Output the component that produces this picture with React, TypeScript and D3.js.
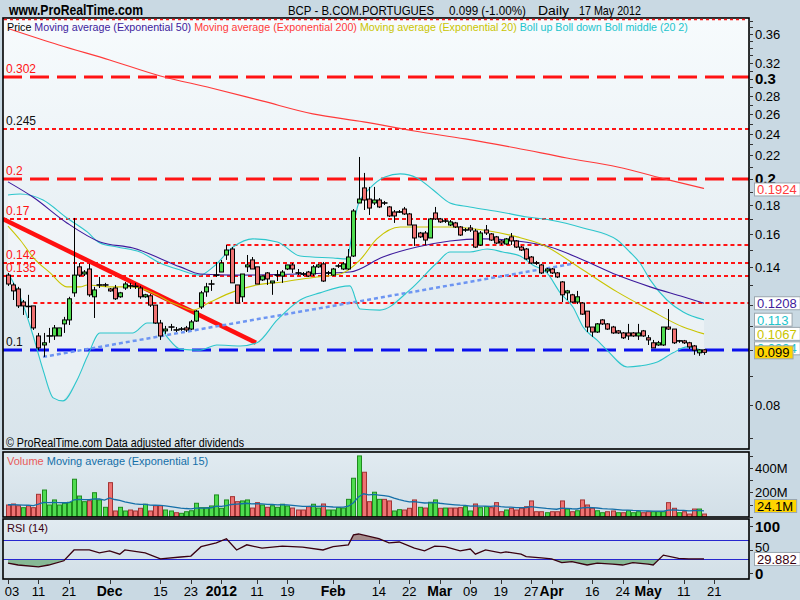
import React, { useEffect, useRef } from "react";
import * as d3 from "d3";

// daily BCP candles 03 Nov 2011 .. 17 May 2012 : open, high, low, close
const ohlc: number[][] = [
  [0.1354, 0.1366, 0.1296, 0.1306], [0.1301, 0.1312, 0.1224, 0.127], [0.128, 0.1291, 0.1185, 0.1195],
  [0.1214, 0.1224, 0.1152, 0.1195], [0.1195, 0.125, 0.1138, 0.119], [0.1195, 0.1195, 0.1084, 0.1093],
  [0.1058, 0.1071, 0.0999, 0.1008], [0.102, 0.1071, 0.0972, 0.1029], [0.1058, 0.1093, 0.1029, 0.1058],
  [0.1058, 0.1106, 0.1041, 0.1093], [0.1058, 0.1093, 0.1058, 0.1093], [0.1111, 0.1143, 0.1071, 0.1129],
  [0.1129, 0.124, 0.1106, 0.123], [0.126, 0.1707, 0.124, 0.1354], [0.14, 0.1422, 0.1344, 0.1354],
  [0.136, 0.1382, 0.1349, 0.1371], [0.1388, 0.1417, 0.124, 0.125], [0.124, 0.1291, 0.1138, 0.1275],
  [0.1301, 0.1344, 0.1285, 0.1301], [0.1301, 0.1312, 0.1291, 0.1301], [0.128, 0.1285, 0.1265, 0.127],
  [0.1285, 0.1301, 0.1224, 0.123], [0.124, 0.1265, 0.1235, 0.126], [0.1285, 0.1317, 0.1275, 0.1306],
  [0.1296, 0.1312, 0.128, 0.1296], [0.1296, 0.1312, 0.128, 0.1291], [0.1285, 0.1296, 0.123, 0.124],
  [0.124, 0.1255, 0.1235, 0.125], [0.1245, 0.1255, 0.119, 0.1199], [0.1199, 0.1199, 0.1111, 0.1115],
  [0.1115, 0.1129, 0.1041, 0.1058], [0.108, 0.1102, 0.1067, 0.1088], [0.1097, 0.1111, 0.108, 0.1097],
  [0.1084, 0.1097, 0.1075, 0.1084], [0.1088, 0.1097, 0.108, 0.1088], [0.1093, 0.1102, 0.1075, 0.1084],
  [0.1088, 0.1129, 0.1084, 0.112], [0.1124, 0.1175, 0.112, 0.117], [0.119, 0.127, 0.118, 0.126],
  [0.1265, 0.1312, 0.124, 0.1291], [0.1306, 0.1328, 0.127, 0.1306], [0.1354, 0.1428, 0.1344, 0.1354],
  [0.1371, 0.144, 0.1371, 0.1422], [0.1469, 0.153, 0.144, 0.1499], [0.1505, 0.1517, 0.1312, 0.1312],
  [0.1301, 0.1301, 0.1209, 0.1209], [0.124, 0.136, 0.1214, 0.136], [0.14, 0.1469, 0.1371, 0.1411],
  [0.144, 0.1457, 0.1388, 0.1388], [0.14, 0.14, 0.1306, 0.1306], [0.1328, 0.1349, 0.1322, 0.1349],
  [0.1366, 0.1371, 0.1301, 0.1333], [0.1312, 0.1322, 0.125, 0.1322], [0.1354, 0.1382, 0.1322, 0.1354],
  [0.1349, 0.1382, 0.1312, 0.1371], [0.1388, 0.1411, 0.1382, 0.1411], [0.1411, 0.1422, 0.1366, 0.1388],
  [0.1366, 0.1388, 0.1354, 0.1366], [0.136, 0.1371, 0.1349, 0.136], [0.1371, 0.1377, 0.1344, 0.1349],
  [0.136, 0.1411, 0.1349, 0.14], [0.14, 0.1417, 0.1394, 0.1411], [0.1417, 0.1428, 0.1317, 0.1322],
  [0.1366, 0.1377, 0.1354, 0.1366], [0.1354, 0.1394, 0.1349, 0.1388], [0.1405, 0.1417, 0.1394, 0.1405],
  [0.1388, 0.1428, 0.1382, 0.1417], [0.1388, 0.1505, 0.1382, 0.1457], [0.1463, 0.177, 0.1457, 0.1756],
  [0.1814, 0.2186, 0.1814, 0.1843], [0.1928, 0.2049, 0.1763, 0.1836], [0.1843, 0.1936, 0.1728, 0.1777],
  [0.1814, 0.1936, 0.1799, 0.1836], [0.1836, 0.185, 0.1777, 0.1785], [0.1814, 0.1829, 0.1799, 0.1814],
  [0.1785, 0.1792, 0.1714, 0.1721], [0.1749, 0.1763, 0.1673, 0.1721], [0.1749, 0.1763, 0.1742, 0.1749],
  [0.177, 0.1785, 0.1728, 0.1735], [0.1735, 0.1742, 0.1659, 0.1659], [0.1659, 0.1659, 0.1524, 0.1574],
  [0.1606, 0.1613, 0.1574, 0.1581], [0.1606, 0.1619, 0.153, 0.1561], [0.1574, 0.1707, 0.1574, 0.17],
  [0.1742, 0.1785, 0.1693, 0.17], [0.17, 0.1707, 0.1673, 0.168], [0.1686, 0.17, 0.1673, 0.1686],
  [0.1659, 0.1693, 0.1652, 0.168], [0.1673, 0.168, 0.1639, 0.1646], [0.1646, 0.1652, 0.1587, 0.1593],
  [0.1626, 0.1639, 0.1613, 0.1626], [0.1639, 0.1659, 0.1613, 0.1626], [0.1619, 0.1633, 0.1511, 0.1517],
  [0.153, 0.1619, 0.1524, 0.1606], [0.1626, 0.1659, 0.1593, 0.1606], [0.16, 0.1606, 0.1555, 0.1561],
  [0.1581, 0.1587, 0.1536, 0.1542], [0.1555, 0.1561, 0.153, 0.1542], [0.1536, 0.1574, 0.153, 0.1568],
  [0.1581, 0.1606, 0.153, 0.1555], [0.1555, 0.1561, 0.1511, 0.1517], [0.1517, 0.1524, 0.1493, 0.1499],
  [0.1505, 0.1511, 0.144, 0.1446], [0.1457, 0.1463, 0.1417, 0.1422], [0.1422, 0.1434, 0.1411, 0.1422],
  [0.1411, 0.1417, 0.136, 0.1366], [0.1377, 0.1394, 0.1366, 0.1388], [0.1388, 0.1394, 0.136, 0.1366],
  [0.1366, 0.1371, 0.1338, 0.1344], [0.1317, 0.1322, 0.1214, 0.125], [0.126, 0.1275, 0.1224, 0.127],
  [0.125, 0.1255, 0.1209, 0.1214], [0.1214, 0.127, 0.1204, 0.124], [0.1209, 0.1214, 0.1152, 0.1156],
  [0.117, 0.117, 0.1075, 0.1097], [0.1097, 0.1097, 0.1054, 0.1075], [0.1075, 0.1115, 0.1071, 0.1111],
  [0.1129, 0.1133, 0.1106, 0.1111], [0.1111, 0.1115, 0.1084, 0.1088], [0.1097, 0.1102, 0.1067, 0.1071],
  [0.108, 0.1084, 0.1067, 0.1071], [0.1071, 0.1075, 0.1045, 0.105], [0.1071, 0.1111, 0.1041, 0.1058],
  [0.1071, 0.1075, 0.1054, 0.1058], [0.1058, 0.1111, 0.1041, 0.1071], [0.108, 0.1084, 0.1054, 0.1058],
  [0.105, 0.1062, 0.102, 0.1041], [0.1029, 0.1041, 0.1008, 0.1008], [0.102, 0.1037, 0.1016, 0.1029],
  [0.102, 0.1097, 0.1016, 0.1097], [0.1097, 0.118, 0.1084, 0.1088], [0.1088, 0.1088, 0.1024, 0.1029],
  [0.1037, 0.1041, 0.1029, 0.1037], [0.1037, 0.1041, 0.1024, 0.1029], [0.1029, 0.1033, 0.1003, 0.1012],
  [0.1016, 0.102, 0.098, 0.0999], [0.0988, 0.1003, 0.0976, 0.1], [0.1, 0.1003, 0.098, 0.099],
];

// volume in millions, and whether the bar is drawn as an up day
const volumes = [
  98, 106, 92, 76, 92, 76, 185, 220, 98, 139, 98, 112, 120, 308, 171, 125, 133, 198, 139, 79,
  280, 49, 79, 49, 57, 49, 71, 104, 49, 92, 92, 57, 49, 35, 30, 43, 51, 112, 76, 76,
  90, 180, 71, 139, 166, 125, 131, 139, 73, 117, 98, 79, 92, 79, 104, 90, 73, 57, 57, 84,
  104, 73, 106, 57, 57, 76, 73, 144, 316, 498, 365, 125, 202, 144, 144, 131, 49, 60,
  57, 71, 139, 79, 73, 120, 139, 71, 73, 73, 73, 76, 84, 49, 106, 76, 84, 76, 117, 43,
  57, 71, 57, 71, 84, 131, 43, 43, 35, 43, 43, 131, 65, 43, 51, 139, 98, 71, 51, 35,
  43, 49, 35, 35, 51, 35, 43, 35, 43, 43, 43, 43, 117, 71, 35, 43, 24, 65, 65, 24.1,
];
const volUp =
  "rrrgrrrggg" + "ggggggrggg" + "rrggrrrgrr" + "rggrgggggg" + "ggggrrggrr" + "grggggrrrr" +
  "ggrggggggg" + "rrggrrg" + "g" +
  "rrrgrggrgr" + "rrggrggrrr" + "grrrrrrrgr" + "rrgrgrrrgg" + "rrgrgggrrg" + "ggrrgrrrgr";

// indicator readings [day index, value]
const ema200 = [
  [0, 0.3681], [10, 0.3443], [20, 0.324], [30, 0.3036], [40, 0.2892], [50, 0.2744], [60, 0.2603],
  [70, 0.252], [80, 0.2429], [90, 0.2352], [100, 0.2267], [110, 0.2177], [120, 0.2099], [130, 0.1992],
  [137, 0.1924],
];
const ema50 = [
  [0, 0.1976], [4.9, 0.1858], [11.6, 0.1673], [18.1, 0.1549], [24.6, 0.1511], [33.9, 0.14],
  [37.8, 0.136], [44.3, 0.1354], [57.5, 0.136], [67.3, 0.1371], [73.8, 0.1457], [80.5, 0.1517],
  [87, 0.1555], [93.5, 0.1568], [100.2, 0.1555], [106.7, 0.1517], [113.2, 0.144], [119.9, 0.1354],
  [126.4, 0.1291], [132.9, 0.124], [137, 0.1208],
];
const ema20 = [
  [0, 0.1652], [2.4, 0.1561], [4.9, 0.1457], [8.3, 0.1366], [11.6, 0.1291], [14.2, 0.1291],
  [15.6, 0.1301], [20.1, 0.1291], [24.6, 0.1291], [29.3, 0.125], [31.9, 0.1214], [33.9, 0.1195],
  [36.4, 0.1175], [39.8, 0.1214], [44.3, 0.1265], [49, 0.1301], [54.1, 0.1317], [60.8, 0.1344],
  [65.4, 0.136], [69.3, 0.144], [72.6, 0.1568], [77.2, 0.1646], [87, 0.1646], [93.5, 0.1626],
  [100.2, 0.1581], [105.3, 0.153], [113.2, 0.1382], [119.9, 0.1265], [126.4, 0.1175],
  [132.9, 0.1097], [137, 0.1067],
];
const bollUp = [
  [0, 0.1874], [2.4, 0.1881], [6.9, 0.1836], [11.6, 0.1707], [15.6, 0.1613], [18.1, 0.1542],
  [21.5, 0.1517], [26, 0.1487], [29.9, 0.1422], [33.9, 0.1382], [37.8, 0.1354], [40.4, 0.14],
  [44.3, 0.1517], [48.2, 0.1568], [53, 0.1549], [57.5, 0.1463], [64, 0.1451], [66.7, 0.1446],
  [67.7, 0.1593], [68.9, 0.1799], [71.3, 0.1928], [74.2, 0.2016], [77.2, 0.2041], [80.5, 0.2008],
  [83.7, 0.1912], [87, 0.1814], [90.9, 0.1785], [96.9, 0.1749], [102.2, 0.1714], [106.7, 0.1693],
  [113.2, 0.1639], [119.9, 0.1561], [122.4, 0.1487], [124.4, 0.1422], [126.4, 0.1328],
  [129.7, 0.1224], [132.9, 0.1166], [137, 0.113],
];
const bollDown = [
  [0, 0.1366], [2.4, 0.124], [4.9, 0.1062], [6.9, 0.0922], [8.9, 0.0823], [10.8, 0.0813],
  [13.6, 0.0885], [15.6, 0.0972], [18.1, 0.1071], [24.6, 0.1071], [27.4, 0.1115], [29.3, 0.1115],
  [31.3, 0.1054], [33.9, 0.1003], [37.8, 0.0999], [41.1, 0.102], [45.7, 0.1016], [49, 0.1029],
  [53, 0.1129], [57.5, 0.1224], [61.4, 0.126], [67.3, 0.1296], [69.3, 0.118], [73.2, 0.1175],
  [79.1, 0.1275], [84.4, 0.1422], [87, 0.1487], [90.9, 0.1487], [94.3, 0.1505], [97.4, 0.1487],
  [100.8, 0.1463], [103.3, 0.1411], [106.1, 0.1366], [108.7, 0.126], [111.2, 0.119],
  [113.2, 0.1097], [115.9, 0.1041], [117.9, 0.0999], [121.9, 0.0933], [124.4, 0.0937],
  [127.8, 0.0952], [130.9, 0.0988], [133.7, 0.1012], [137, 0.0994],
];
const rsiIdx = [
  0, 2, 6, 8, 11, 13, 16, 18, 20, 22, 23, 27, 30, 34, 36, 38, 41, 43, 45, 47, 50, 54, 58, 62, 64, 67, 68, 69,
  73, 75, 77, 80, 82, 84, 86, 89, 91, 92, 94, 97, 98, 101, 102, 105, 107, 109, 111, 114, 116, 119, 121,
  123, 126, 127, 129, 132, 134, 137,
];
const rsiVal = [
  21, 17, 13, 17, 26, 49, 49, 43, 47, 40, 49, 43, 30, 34, 36, 56, 64, 73, 49, 60, 53, 57, 55, 49, 56, 60,
  81, 83, 73, 64, 66, 53, 47, 57, 56, 47, 51, 40, 49, 43, 45, 40, 35, 32, 30, 22, 24, 17, 21, 19, 17, 22,
  19, 17, 38, 31, 30, 29.882,
];

// horizontal levels and trend lines drawn on the chart
const dashedLevels = [0.302, 0.2];
const dottedLevels = [0.245, 0.17, 0.153, 0.142, 0.135, 0.121];
const levelStart: Record<string, number> = { "0.153": 43, "0.121": 5 };
const supportLevel = 0.1;
const levelLabels = ["0.302", "0.245", "0.2", "0.17", "0.142", "0.135", "0.1"];
const downTrend = [[-1, 0.17], [48.8, 0.1029]];
const upTrend = [[6.9, 0.0972], [111, 0.1417]];

const dateTicks = ["03", "11", "21", "Dec", "15", "23", "2012", "11", "19", "Feb", "14", "22", "Mar", "09", "19", "27", "Apr", "16", "24", "May", "11", "21"];
const dateTickIdx = [0, 6, 12, 20, 30, 36, 42, 49, 55, 64, 73, 79, 85, 91, 97, 103, 107, 115, 121, 126, 133, 139];
// 0.12 and 0.1 sit under the value boxes in the original, so they are not labelled
const priceLabels = [0.36, 0.32, 0.3, 0.28, 0.26, 0.24, 0.22, 0.2, 0.18, 0.16, 0.14, 0.08];

const NARROW = "'Liberation Sans Narrow','Arial Narrow','Liberation Sans',Arial,sans-serif";
const SANS = "'Liberation Sans',Arial,sans-serif";
const GREEN = "#4fdc4f";
const RED = "#ef7272";

export default function App() {
  const ref = useRef<SVGSVGElement>(null);

  useEffect(() => {
    document.body.style.margin = "0";
    const svg = d3.select(ref.current);
    svg.selectAll("*").remove();

    const L = 3, R = 749;
    const mainTop = 18, mainBot = 449;
    const volTop = 452, volBot = 517;
    const rsiTop = 519, rsiBot = 579;

    const x = d3.scaleLinear().domain([0, 137]).range([8, 704]);
    const y = d3.scaleLog().domain([0.0669, 0.384]).range([mainBot, mainTop]);
    const yv = d3.scaleLinear().domain([0, 530]).range([volBot, volTop]);
    const yr = d3.scaleLinear().domain([0, 100]).range([573, 526]);

    svg.append("rect").attr("width", 800).attr("height", 600).attr("fill", "#c9d9e3");

    const defs = svg.append("defs");
    const g1 = defs.append("linearGradient").attr("id", "mainBg").attr("x1", 0).attr("x2", 0).attr("y1", 0).attr("y2", 1);
    g1.append("stop").attr("offset", "0%").attr("stop-color", "#f7fbfd");
    g1.append("stop").attr("offset", "100%").attr("stop-color", "#d8e4eb");
    const g2 = defs.append("linearGradient").attr("id", "subBg").attr("x1", 0).attr("x2", 0).attr("y1", 0).attr("y2", 1);
    g2.append("stop").attr("offset", "0%").attr("stop-color", "#e1ebf1");
    g2.append("stop").attr("offset", "100%").attr("stop-color", "#d2dfe7");
    const clip = (id: string, t: number, b: number) =>
      defs.append("clipPath").attr("id", id).append("rect").attr("x", L).attr("y", t).attr("width", R - L).attr("height", b - t);
    clip("cMain", mainTop, mainBot);
    clip("cVol", volTop, volBot);
    clip("cRsi", rsiTop, rsiBot);
    defs.append("clipPath").attr("id", "cBelow30").append("rect").attr("x", L).attr("y", yr(30)).attr("width", R - L).attr("height", rsiBot - yr(30));
    defs.append("clipPath").attr("id", "cAbove70").append("rect").attr("x", L).attr("y", rsiTop).attr("width", R - L).attr("height", yr(70) - rsiTop);

    // header
    svg.append("text").attr("x", 9).attr("y", 15).attr("font-family", NARROW).attr("font-size", 14).attr("font-weight", "bold")
      .attr("textLength", 134).attr("lengthAdjust", "spacingAndGlyphs").text("www.ProRealTime.com");
    const titleParts: [string, number, number][] = [
      ["BCP - B.COM.PORTUGUES", 288, 146], ["0.099 (-1.00%)", 449, 77], ["Daily", 538, 31], ["17 May 2012", 579, 62],
    ];
    titleParts.forEach(([t, tx, w]) =>
      svg.append("text").attr("x", tx).attr("y", 15).attr("font-family", NARROW).attr("font-size", 13)
        .attr("textLength", w).attr("lengthAdjust", "spacingAndGlyphs").text(t));

    // panels
    const panel = (t: number, b: number, fill: string) =>
      svg.append("rect").attr("x", L).attr("y", t).attr("width", R - L).attr("height", b - t).attr("fill", fill);
    panel(mainTop, mainBot, "url(#mainBg)");
    panel(volTop, volBot, "url(#subBg)");
    panel(rsiTop, rsiBot, "url(#subBg)");

    const pts = (d: number[][]) => d.map((p) => [x(p[0]), y(p[1])] as [number, number]);
    const curve = d3.line().curve(d3.curveMonotoneX);
    const straight = d3.line();

    const gm = svg.append("g").attr("clip-path", "url(#cMain)");

    // Bollinger envelope
    gm.append("path")
      .attr("d", straight([...pts(bollUp), ...pts(bollDown).reverse()]) + "Z")
      .attr("fill", "#ffffff").attr("opacity", 0.35);

    // horizontal levels
    const hline = (v: number, color: string, dash: string, w: number) => {
      const start = levelStart[String(v)];
      gm.append("line").attr("x1", start !== undefined ? x(start) : L).attr("x2", R)
        .attr("y1", Math.round(y(v))).attr("y2", Math.round(y(v)))
        .attr("stroke", color).attr("stroke-width", w).attr("stroke-dasharray", dash);
    };
    dottedLevels.forEach((v) => hline(v, "#ff1414", "4 3", 2));
    dashedLevels.forEach((v) => hline(v, "#ff1414", "19 8", 3));
    hline(supportLevel, "#0a10ee", "19 8", 3);
    levelLabels.forEach((s) => {
      gm.append("text").attr("x", 6).attr("y", Math.round(y(+s)) - 4).attr("font-family", SANS).attr("font-size", 12)
        .attr("fill", s === "0.245" || s === "0.1" ? "#111" : "#ff1414").text(s);
    });

    // trend lines
    gm.append("path").attr("d", straight(pts(downTrend))).attr("stroke", "#ff1010").attr("stroke-width", 4.5).attr("fill", "none");
    gm.append("path").attr("d", straight(pts(upTrend))).attr("stroke", "#6d95f2").attr("stroke-width", 2.5)
      .attr("stroke-dasharray", "4 3").attr("fill", "none");

    // indicator lines
    const series: [number[][], string][] = [
      [bollUp, "#2cc6cc"], [bollDown, "#2cc6cc"], [ema200, "#ff3a3a"], [ema50, "#3d1a9c"], [ema20, "#c9c400"],
    ];
    series.forEach(([d, c]) =>
      gm.append("path").attr("d", curve(pts(d))).attr("stroke", c).attr("stroke-width", 1.1).attr("fill", "none"));

    // candles
    const cg = gm.append("g");
    ohlc.forEach(([o, h, l, c], i) => {
      const cx = Math.round(x(i)) + 0.5;
      cg.append("line").attr("x1", cx).attr("x2", cx).attr("y1", y(h)).attr("y2", y(l)).attr("stroke", "#000").attr("stroke-width", 1);
      const top = y(Math.max(o, c)), bot = y(Math.min(o, c));
      if (bot - top < 1.5) {
        cg.append("line").attr("x1", cx - 3).attr("x2", cx + 3).attr("y1", (top + bot) / 2).attr("y2", (top + bot) / 2)
          .attr("stroke", "#000").attr("stroke-width", 1.6);
      } else {
        cg.append("rect").attr("x", cx - 2).attr("y", top).attr("width", 4).attr("height", bot - top)
          .attr("fill", c > o ? GREEN : RED).attr("stroke", "#000").attr("stroke-width", 1);
      }
    });

    svg.append("text").attr("x", 6).attr("y", 447).attr("font-family", NARROW).attr("font-size", 13)
      .attr("textLength", 238).attr("lengthAdjust", "spacingAndGlyphs").text("© ProRealTime.com  Data adjusted after dividends");

    // legend of the price panel, one flowing line
    const legend: [string, string][] = [
      ["Price", "#000"], ["Moving average (Exponential 50)", "#3d1a9c"],
      ["Moving average (Exponential 200)", "#ff3a3a"], ["Moving average (Exponential 20)", "#c9c400"],
      ["Boll up Boll down Boll middle (20 2)", "#22c4cc"],
    ];
    const lg = svg.append("text").attr("x", 7).attr("y", 31).attr("font-family", SANS).attr("font-size", 10.7);
    legend.forEach(([t, c], i) => lg.append("tspan").attr("fill", c).text((i ? " " : "") + t));

    // volume
    const gv = svg.append("g").attr("clip-path", "url(#cVol)");
    volumes.forEach((v, i) => {
      const up = volUp[i] === "g";
      gv.append("rect").attr("x", Math.round(x(i)) - 1.5).attr("y", yv(v)).attr("width", 4).attr("height", volBot - yv(v))
        .attr("fill", up ? GREEN : RED).attr("stroke", up ? "#1f8c1f" : "#a43434").attr("stroke-width", 1);
    });
    const volEma: number[] = [];
    volumes.reduce((prev, v) => {
      const e = prev + ((v - prev) * 2) / 16;
      volEma.push(e);
      return e;
    }, 100);
    gv.append("path").attr("d", straight(volEma.map((v, i) => [x(i), yv(v)] as [number, number])))
      .attr("stroke", "#146fa8").attr("stroke-width", 1.3).attr("fill", "none");
    const vl = svg.append("text").attr("x", 7).attr("y", 465).attr("font-family", SANS).attr("font-size", 11);
    vl.append("tspan").attr("fill", "#e85a5a").text("Volume");
    vl.append("tspan").attr("fill", "#146fa8").text(" Moving average (Exponential 15)");

    // RSI
    const gr = svg.append("g").attr("clip-path", "url(#cRsi)");
    const rsiPts = rsiIdx.map((d, i) => [x(d), yr(rsiVal[i])] as [number, number]);
    gr.append("path").attr("clip-path", "url(#cBelow30)")
      .attr("d", d3.area().x((p) => p[0]).y0(yr(30)).y1((p) => p[1])(rsiPts))
      .attr("fill", "#86b895");
    gr.append("path").attr("clip-path", "url(#cAbove70)")
      .attr("d", d3.area().x((p) => p[0]).y0(yr(70)).y1((p) => p[1])(rsiPts))
      .attr("fill", "#a58c8c");
    [70, 30].forEach((v) =>
      gr.append("line").attr("x1", L).attr("x2", R).attr("y1", Math.round(yr(v)) + 0.5).attr("y2", Math.round(yr(v)) + 0.5)
        .attr("stroke", "#2727cf").attr("stroke-width", 1.2));
    gr.append("path").attr("d", straight(rsiPts)).attr("stroke", "#3a0010").attr("stroke-width", 1.3).attr("fill", "none");
    svg.append("text").attr("x", 7).attr("y", 532).attr("font-family", SANS).attr("font-size", 11).attr("fill", "#3a0010")
      .text("RSI (14)");

    // panel borders
    [[mainTop, mainBot], [volTop, volBot], [rsiTop, rsiBot]].forEach(([t, b]) =>
      svg.append("rect").attr("x", L).attr("y", t).attr("width", R - L).attr("height", b - t)
        .attr("fill", "none").attr("stroke", "#000").attr("stroke-width", 1.6));
    svg.append("line").attr("x1", L + 1).attr("x2", R - 1).attr("y1", mainTop + 1.5).attr("y2", mainTop + 1.5)
      .attr("stroke", "#ff1414").attr("stroke-width", 1.5).attr("stroke-dasharray", "3 3");

    // right price axis
    const ax = svg.append("g").attr("font-family", NARROW).attr("font-size", 13);
    d3.range(7, 39).forEach((k) => {
      const yy = Math.round(y(k / 100)) + 0.5;
      if (yy < mainTop || yy > mainBot) return;
      ax.append("line").attr("x1", R).attr("x2", R + 4).attr("y1", yy).attr("y2", yy).attr("stroke", "#333");
    });
    priceLabels.forEach((v) => {
      const bold = v === 0.3 || v === 0.2;
      ax.append("text").attr("x", R + 6).attr("y", y(v) + 5).attr("font-weight", bold ? "bold" : "normal")
        .attr("font-size", bold ? 15 : 13).text(String(v));
    });
    const box = (text: string, color: string, bg: string, yy: number) => {
      const t = ax.append("text").attr("x", 757).attr("y", yy + 5).attr("fill", color).text(text);
      const w = (t.node() as SVGTextElement).getComputedTextLength();
      ax.insert("rect", () => t.node()).attr("x", 754.5).attr("y", yy - 6.5).attr("width", w + 6).attr("height", 13)
        .attr("fill", bg).attr("stroke", "#9aa6ae");
    };
    const last = (d: number[][]) => d[d.length - 1][1];
    const close = ohlc[ohlc.length - 1][3];
    box(String(last(ema200)), "#ff3a3a", "#ffffff", y(last(ema200)) + 1);
    box(String(last(ema50)), "#3d1a9c", "#ffffff", y(last(ema50)));
    box(String(last(bollUp)), "#22c4cc", "#ffffff", y(last(bollUp)));
    box(String(last(ema20)), "#c9c400", "#ffffff", y(last(ema20)));
    box(String(last(bollDown)), "#22c4cc", "#ffffff", y(last(bollDown)) - 3);
    box(String(close), "#000", "#ffd500", y(close));

    // volume axis
    d3.range(0, 600, 100).forEach((v) => {
      if (yv(v) < volTop) return;
      ax.append("line").attr("x1", R).attr("x2", R + 4).attr("y1", Math.round(yv(v)) + 0.5).attr("y2", Math.round(yv(v)) + 0.5).attr("stroke", "#333");
    });
    [200, 400].forEach((v) => ax.append("text").attr("x", R + 6).attr("y", yv(v) + 5).text(v + "M"));
    const lastVol = volumes[volumes.length - 1];
    box(lastVol + "M", "#000", "#ffd500", Math.min(yv(lastVol), volBot - 11));

    // rsi axis
    [0, 50, 100].forEach((v) => {
      ax.append("line").attr("x1", R).attr("x2", R + 4).attr("y1", Math.round(yr(v)) + 0.5).attr("y2", Math.round(yr(v)) + 0.5).attr("stroke", "#333");
      ax.append("text").attr("x", R + 6).attr("y", yr(v) + (v === 50 ? 2 : 6)).attr("font-weight", v === 50 ? "normal" : "bold")
        .attr("font-size", v === 50 ? 13 : 15).text(String(v));
    });
    const lastRsi = rsiVal[rsiVal.length - 1];
    box(String(lastRsi), "#3a0010", "#ffffff", yr(lastRsi));

    // date axis
    dateTicks.forEach((t, i) => {
      const tx = x(dateTickIdx[i]);
      ax.append("line").attr("x1", Math.round(tx) + 0.5).attr("x2", Math.round(tx) + 0.5).attr("y1", rsiBot + 1).attr("y2", rsiBot + 5).attr("stroke", "#333");
      const bold = isNaN(+t) || t.length === 4;
      ax.append("text").attr("x", Math.max(tx, 12)).attr("y", 596).attr("text-anchor", "middle")
        .attr("font-weight", bold ? "bold" : "normal").attr("font-size", bold ? 14 : 13).text(t);
    });
  }, []);

  return <svg ref={ref} width={800} height={600} style={{ display: "block" }} />;
}
